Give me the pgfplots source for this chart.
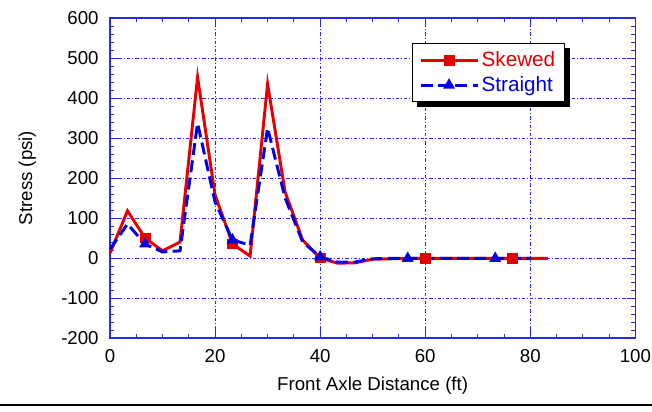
\documentclass[border=0pt]{standalone}
\usepackage{pgfplots}
\pgfplotsset{compat=1.18}
\usepackage{fontspec}
\setmainfont{Liberation Sans}
\definecolor{skew}{RGB}{228,0,0}
\definecolor{strt}{RGB}{0,0,225}
\definecolor{gridb}{RGB}{40,40,230}

\begin{document}
\begin{tikzpicture}
\useasboundingbox (-82.5pt,-54.75pt) rectangle (406.5pt,253.5pt);
\begin{axis}[
  at={(0pt,0pt)}, anchor=south west,
  scale only axis, width=394pt, height=240pt,
  xmin=0, xmax=100, ymin=-200, ymax=600,
  xtick={0,20,...,100}, ytick={-200,-100,...,600},
  minor x tick num=3, minor y tick num=4,
  tick align=inside, major tick length=6pt, minor tick length=3pt,
  axis line style={gridb, line width=0.8pt},
  every tick/.style={gridb, line width=0.7pt},
  grid=major,
  major grid style={gridb, line width=0.6pt, dash pattern=on 2.5pt off 1.5pt on 0.8pt off 1.5pt},
  font=\fontsize{14}{16}\selectfont,
  /pgf/number format/assume math mode=true,
  xticklabel style={yshift=-5pt},
  yticklabel style={xshift=-5pt},
  xlabel={Front Axle Distance (ft)}, ylabel={Stress (psi)},
  xlabel style={yshift=-4pt},
  ylabel style={yshift=12pt},
  legend cell align=left,
  legend style={name=leg, at={(0.575,0.921)}, anchor=north west, draw=black, fill=white,
    line width=0.6pt, inner xsep=5pt, inner ysep=4pt, row sep=2pt,
    font=\fontsize{15.5}{17}\selectfont,
    /tikz/every even column/.append style={column sep=1pt}},
  legend image code/.code={
    \draw[#1, mark=none] (0cm,0cm) -- (1.5cm,0cm);
    \draw[#1, mark indices={1}] plot coordinates {(0.75cm,0cm)};
  },
]
\addplot[color=skew, line width=2.2pt, mark=square*, mark size=3pt,
  mark indices={3,8,13,19,24}] coordinates {
  (0,12) (3.33,118) (6.67,50) (10,18) (13.33,40) (16.67,452) (20,158)
  (23.33,35) (26.67,5) (30,435) (33.33,165) (36.67,45) (40,0) (43.33,-13)
  (46.67,-12) (50,-3) (53.33,-2) (56.67,-1) (60,-1) (63.33,-1) (66.67,-1)
  (70,-1) (73.33,-1) (76.67,-1) (80,-1) (83.33,-1)
};
\addlegendentry{\textcolor{skew}{Skewed}}
\addplot[color=strt, line width=2.2pt, dash pattern=on 9pt off 4pt,
  mark=triangle*, mark size=3pt, mark options={solid},
  mark indices={3,8,13,18,23}] coordinates {
  (0,22) (3.33,85) (6.67,35) (10,15) (13.33,18) (16.67,337) (20,140)
  (23.33,45) (26.67,32) (30,325) (33.33,150) (36.67,40) (40,3) (43.33,-10)
  (46.67,-10) (50,-2) (53.33,-1) (56.67,-1) (60,-1) (63.33,-1) (66.67,-1)
  (70,-1) (73.33,-1) (76.67,-1) (80,-1)
};
\addlegendentry{\textcolor{strt}{Straight}}
\end{axis}
% drop shadow of the legend box
\fill[black] ([xshift=3.5pt,yshift=-3.5pt]leg.south west) rectangle ([xshift=3.5pt]leg.south east);
\fill[black] ([yshift=-3.5pt]leg.north east) rectangle ([xshift=3.5pt,yshift=-3.5pt]leg.south east);
\draw[black, line width=1pt] (-82.5pt,-50.25pt) -- (406.5pt,-50.25pt);
\end{tikzpicture}
\end{document}
